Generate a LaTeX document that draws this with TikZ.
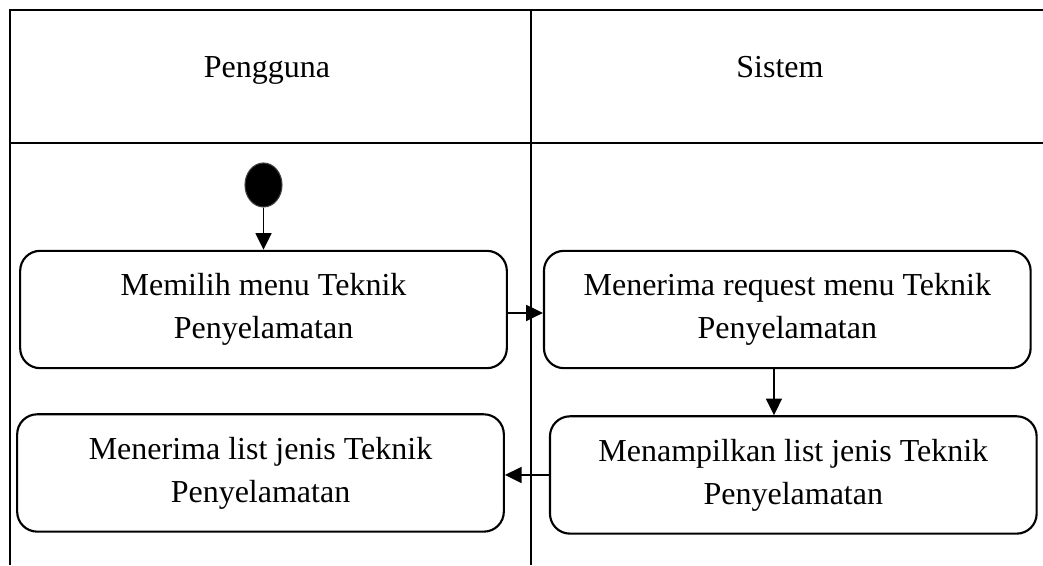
\documentclass[tikz,border=0pt]{standalone}
\usepackage{fontspec}
\setmainfont{Liberation Serif}
\usetikzlibrary{positioning,arrows.meta,shapes.geometric}

\begin{document}
\begin{tikzpicture}[
  x=0.75pt, y=-0.75pt,
  every node/.style={font=\fontsize{24}{32.25}\selectfont},
  lane/.style={line width=2pt, black},
  head/.style={anchor=base},
  act/.style={rectangle, draw=black, rounded corners=15pt, line width=1.6pt,
              minimum width=365pt, minimum height=88pt, align=center,
              inner sep=0pt},
  start/.style={ellipse, fill=black, draw=black!75, line width=0.8pt,
                minimum width=27.75pt, minimum height=33pt, inner sep=0pt},
  arr/.style={-{Triangle[length=12.5pt,width=12pt]}, line width=1.1pt, black},
]
\useasboundingbox (0,0) rectangle (1043,565);

% swimlane frame: open on the right and at the bottom
\draw[lane] (10,565) -- (10,10) -- (1043,10);
\draw[lane] (10,143) -- (1043,143);
\draw[lane] (531,10) -- (531,565);

% lane headers
\node[head] (user) at (267,77) {Pengguna};
\node[head] (sys) at (780,77) {Sistem};

% activities
\node[start] (init) at (263.5,185) {};
\node[act] (pilih) at (263.5,309.5) {Memilih menu Teknik\\Penyelamatan};
\node[act, right=26.25pt of pilih] (terima) {Menerima request menu Teknik\\Penyelamatan};
\node[act, below=34.5pt of terima, xshift=4.5pt] (tampil) {Menampilkan list jenis Teknik\\Penyelamatan};
\node[act, below=33pt of pilih, xshift=-2.25pt] (daftar) {Menerima list jenis Teknik\\Penyelamatan};

% control flow
\draw[arr] (init) -- (pilih);
\draw[arr] ([yshift=-2.6pt]pilih.east) -- ([yshift=-2.6pt]pilih.east -| terima.west);
\draw[arr] ([xshift=-10pt]terima.south) -- ([xshift=-10pt]terima.south |- tampil.north);
\draw[arr] (tampil.west) -- (tampil.west -| daftar.east);

\end{tikzpicture}
\end{document}
